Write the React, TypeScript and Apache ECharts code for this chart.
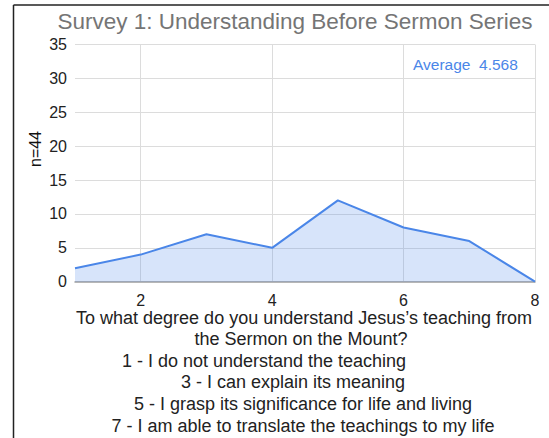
import React, { useEffect, useRef } from "react";
import * as echarts from "echarts";

const categories = ["1", "2", "3", "4", "5", "6", "7", "8"];
const responses = [2, 4, 7, 5, 12, 8, 6, 0];
const yTicks = { min: 0, max: 35, interval: 5 };
const titleText = "Survey 1: Understanding Before Sermon Series";
const yName = "n=44";
const averageText = "Average  4.568";
const xNameLines = [
  "To what degree do you understand Jesus\u2019s teaching from",
  "the Sermon on the Mount?",
  "1 - I do not understand the teaching",
  "3 - I can explain its meaning",
  "5 - I grasp its significance for life and living",
  "7 - I am able to translate the teachings to my life",
];
const xNameCenters = [304, 301, 264, 293, 303, 303];
const xNameYs = [317.5, 339, 361, 382, 404, 426];

const FONT = "'Liberation Sans', Arial, sans-serif";

export default function App() {
  const ref = useRef<HTMLDivElement>(null);
  useEffect(() => {
    if (!ref.current) return;
    const chart = echarts.init(ref.current, undefined, { renderer: "svg" });
    const graphics: any[] = [
      {
        type: "line",
        shape: { x1: 13.5, y1: 5, x2: 549, y2: 5 },
        style: { stroke: "#222", lineWidth: 1.5 },
      },
      {
        type: "line",
        shape: { x1: 13.5, y1: 5, x2: 13.5, y2: 438 },
        style: { stroke: "#222", lineWidth: 1.5 },
      },
      {
        type: "text",
        x: 295,
        y: 21,
        style: {
          text: titleText,
          fill: "#757575",
          font: `22.5px ${FONT}`,
          align: "center",
          verticalAlign: "middle",
        },
      },
      {
        type: "text",
        x: 35.5,
        y: 149,
        rotation: Math.PI / 2,
        style: {
          text: yName,
          fill: "#111",
          font: `16px ${FONT}`,
          align: "center",
          verticalAlign: "middle",
        },
      },
      {
        type: "text",
        x: 413,
        y: 64,
        style: {
          text: averageText,
          fill: "#4a86e8",
          font: `15.5px ${FONT}`,
          align: "left",
          verticalAlign: "middle",
        },
      },
      ...xNameLines.map((t, i) => ({
        type: "text",
        x: xNameCenters[i],
        y: xNameYs[i],
        style: {
          text: t,
          fill: "#222",
          font: `18px ${FONT}`,
          lineHeight: 18,
          align: "center",
          verticalAlign: "middle",
        },
      })),
    ];
    chart.setOption({
      animation: false,
      grid: { left: 75, right: 14, top: 44.5, bottom: 156.3, containLabel: false },
      xAxis: {
        type: "category",
        data: categories,
        boundaryGap: false,
        axisLine: { show: true, lineStyle: { color: "#9e9e9e", width: 1.5 } },
        axisTick: { show: false },
        axisLabel: {
          interval: (index: number) => index % 2 === 1,
          color: "#222",
          fontSize: 16,
          lineHeight: 15,
          fontFamily: FONT,
          margin: 11,
        },
        splitLine: {
          show: true,
          interval: (index: number) => index % 2 === 1,
          lineStyle: { color: "#dcdcdc", width: 1 },
        },
      },
      yAxis: {
        type: "value",
        min: yTicks.min,
        max: yTicks.max,
        interval: yTicks.interval,
        axisLine: { show: false },
        axisTick: { show: false },
        axisLabel: { color: "#222", fontSize: 16, fontFamily: FONT, margin: 8 },
        splitLine: { show: true, lineStyle: { color: "#dcdcdc", width: 1 } },
      },
      series: [
        {
          type: "line",
          data: responses,
          showSymbol: false,
          symbol: "none",
          lineStyle: { color: "#4a86e8", width: 2 },
          areaStyle: { color: "rgba(74,134,232,0.32)" },
          z: 1,
        },
      ],
      graphic: graphics,
    });
    return () => chart.dispose();
  }, []);
  return (
    <div
      ref={ref}
      style={{ position: "fixed", left: 0, top: 0, width: 549, height: 438, background: "#fff" }}
    />
  );
}
